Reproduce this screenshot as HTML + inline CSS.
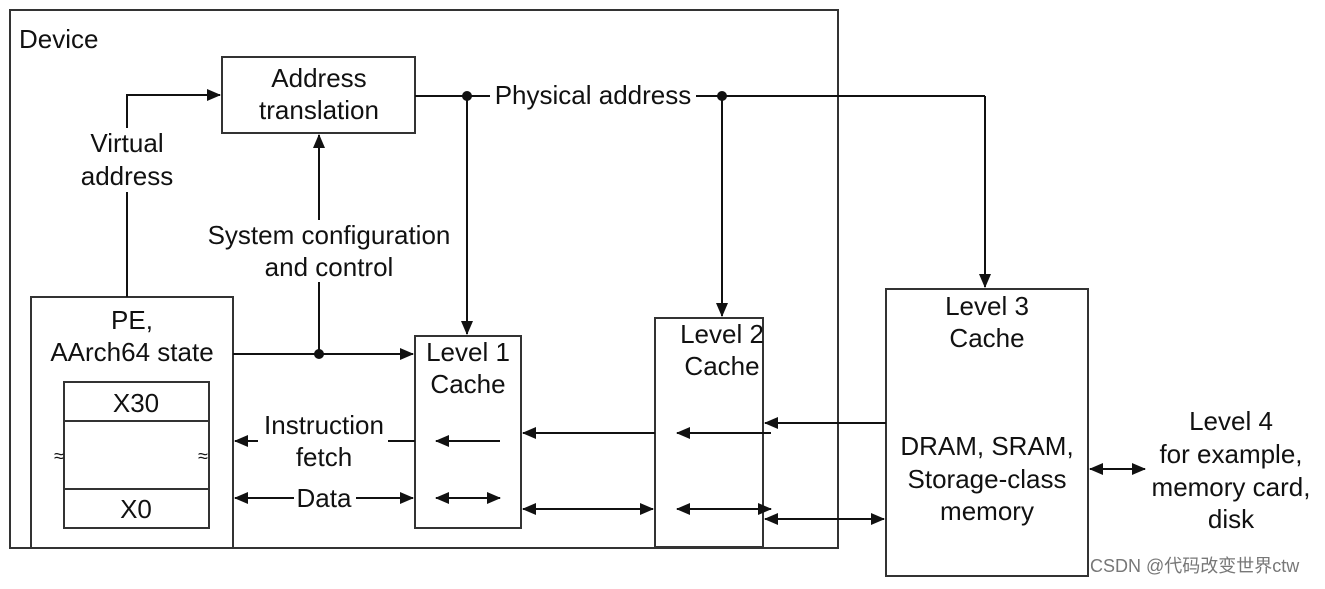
<!DOCTYPE html>
<html><head><meta charset="utf-8"><style>
html,body{margin:0;padding:0;background:#fff;}
svg text{font-family:"Liberation Sans",Arial,sans-serif;font-size:26px;fill:#111;}
</style></head><body>
<svg width="1325" height="584" viewBox="0 0 1325 584" xmlns="http://www.w3.org/2000/svg">
<defs>
<marker id="a" markerWidth="14" markerHeight="14" refX="13" refY="6" orient="auto-start-reverse" markerUnits="userSpaceOnUse"><path d="M0,0 L14,6 L0,12 z" fill="#111"/></marker>
</defs>
<g stroke="#333" stroke-width="2" fill="none">
<rect x="10" y="10" width="828" height="538"/>
<rect x="222" y="57" width="193" height="76"/>
<rect x="31" y="297" width="202" height="251"/>
<rect x="64" y="382" width="145" height="146"/>
<line x1="64" y1="421" x2="209" y2="421"/>
<line x1="64" y1="489" x2="209" y2="489"/>
<rect x="415" y="336" width="106" height="192"/>
<rect x="655" y="318" width="108" height="229"/>
<rect x="886" y="289" width="202" height="287"/>
</g>
<g stroke="#111" stroke-width="2" fill="none">
<polyline points="127,297 127,95 220,95" marker-end="url(#a)"/>
<line x1="415" y1="96" x2="985" y2="96"/>
<line x1="467" y1="96" x2="467" y2="334" marker-end="url(#a)"/>
<line x1="722" y1="96" x2="722" y2="316" marker-end="url(#a)"/>
<line x1="985" y1="96" x2="985" y2="287" marker-end="url(#a)"/>
<line x1="319" y1="354" x2="319" y2="135" marker-end="url(#a)"/>
<line x1="233" y1="354" x2="413" y2="354" marker-end="url(#a)"/>
<line x1="415" y1="441" x2="235" y2="441" marker-end="url(#a)"/>
<line x1="235" y1="498" x2="413" y2="498" marker-start="url(#a)" marker-end="url(#a)"/>
<line x1="500" y1="441" x2="436" y2="441" marker-end="url(#a)"/>
<line x1="436" y1="498" x2="500" y2="498" marker-start="url(#a)" marker-end="url(#a)"/>
<line x1="655" y1="433" x2="523" y2="433" marker-end="url(#a)"/>
<line x1="523" y1="509" x2="653" y2="509" marker-start="url(#a)" marker-end="url(#a)"/>
<line x1="771" y1="433" x2="677" y2="433" marker-end="url(#a)"/>
<line x1="677" y1="509" x2="771" y2="509" marker-start="url(#a)" marker-end="url(#a)"/>
<line x1="886" y1="423" x2="765" y2="423" marker-end="url(#a)"/>
<line x1="765" y1="519" x2="884" y2="519" marker-start="url(#a)" marker-end="url(#a)"/>
<line x1="1090" y1="469" x2="1145" y2="469" marker-start="url(#a)" marker-end="url(#a)"/>
</g>
<g fill="#111"><circle cx="467" cy="96" r="5"/><circle cx="722" cy="96" r="5"/><circle cx="319" cy="354" r="5"/></g>
<g fill="#fff">
<rect x="490" y="82" width="206" height="28"/>
<rect x="200" y="220" width="258" height="62"/>
<rect x="258" y="410" width="130" height="62"/>
<rect x="294" y="485" width="62" height="26"/>
<rect x="75" y="128" width="104" height="64"/>
</g>
<g><text x="54" y="462" style="font-size:18px">≈</text><text x="198" y="462" style="font-size:18px">≈</text></g>
<text x="19" y="48">Device</text>
<g text-anchor="middle">
<text x="319" y="87">Address</text><text x="319" y="119">translation</text>
<text x="593" y="104">Physical address</text>
<text x="127" y="152">Virtual</text><text x="127" y="185">address</text>
<text x="329" y="244">System configuration</text><text x="329" y="276">and control</text>
<text x="132" y="329">PE,</text><text x="132" y="361">AArch64 state</text>
<text x="136" y="412">X30</text><text x="136" y="518">X0</text>
<text x="324" y="434">Instruction</text><text x="324" y="466">fetch</text>
<text x="324" y="507">Data</text>
<text x="468" y="361">Level 1</text><text x="468" y="393">Cache</text>
<text x="722" y="343">Level 2</text><text x="722" y="375">Cache</text>
<text x="987" y="315">Level 3</text><text x="987" y="347">Cache</text>
<text x="987" y="455">DRAM, SRAM,</text><text x="987" y="488">Storage-class</text><text x="987" y="520">memory</text>
<text x="1231" y="430">Level 4</text><text x="1231" y="463">for example,</text><text x="1231" y="496">memory card,</text><text x="1231" y="528">disk</text>
</g>
<text x="1090" y="572" style="font-size:18px;fill:#777;font-family:'Liberation Sans','Noto Sans CJK SC',sans-serif">CSDN @代码改变世界ctw</text>
</svg>
</body></html>
